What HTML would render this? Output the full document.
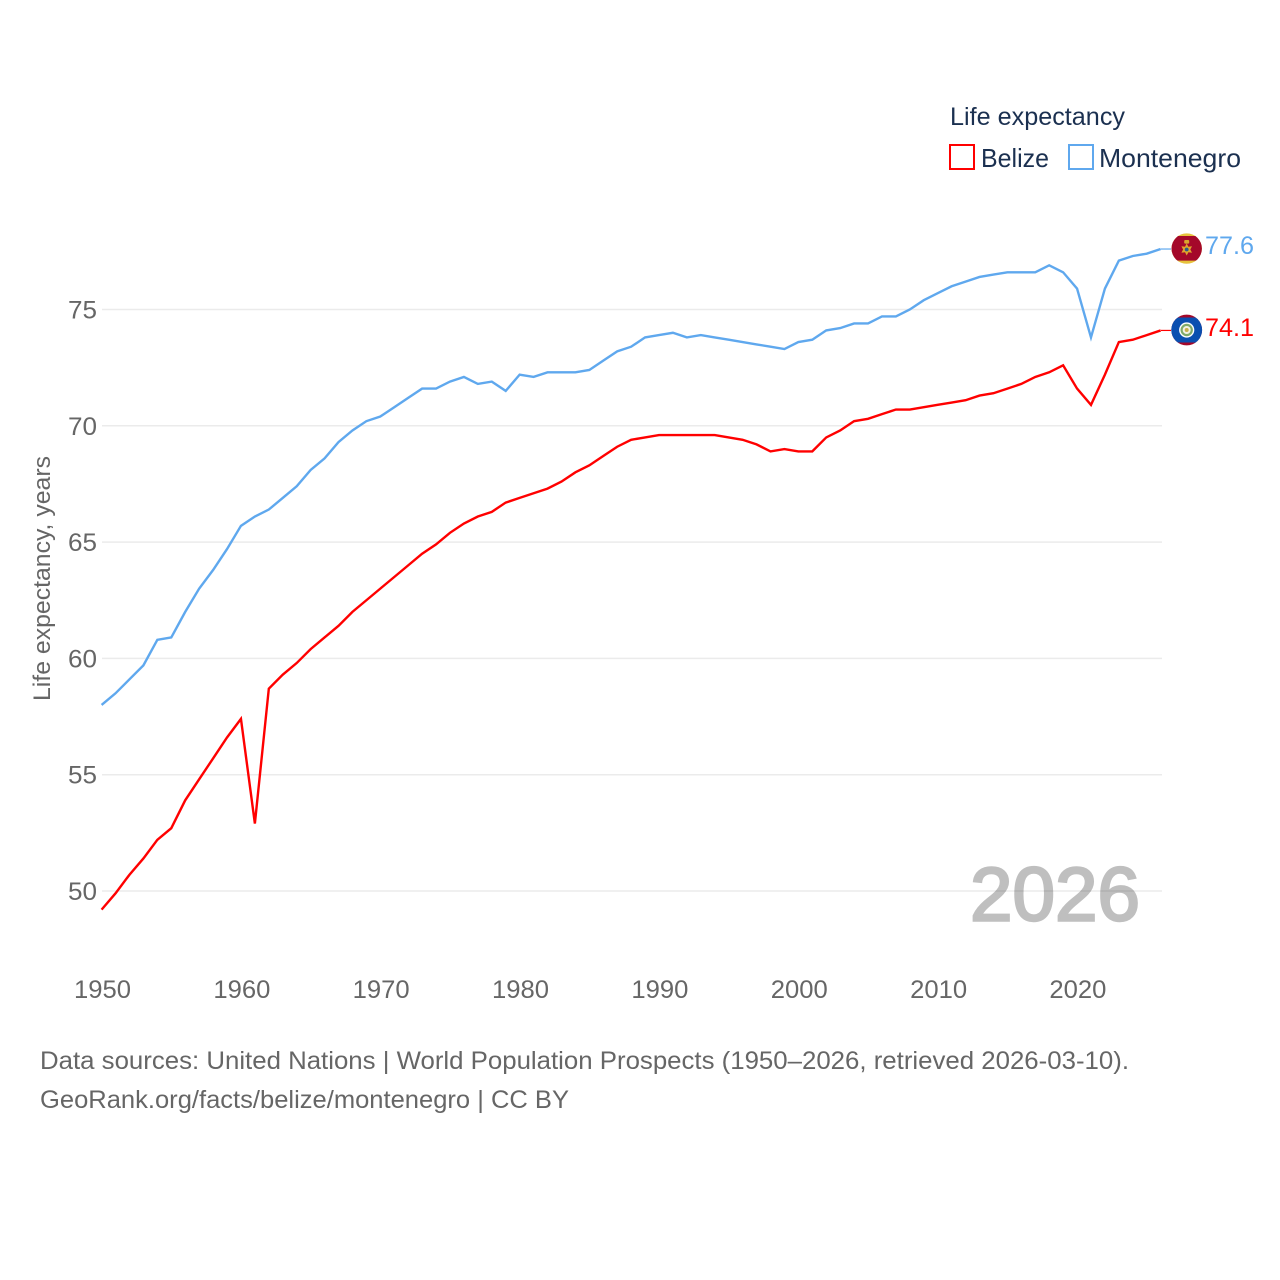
<!DOCTYPE html>
<html>
<head>
<meta charset="utf-8">
<title>Life expectancy: Belize and Montenegro</title>
<style>
html,body{margin:0;padding:0;background:#fff;width:1280px;height:1280px;overflow:hidden}
svg{display:block}
text{font-family:"Liberation Sans",sans-serif}
</style>
</head>
<body>
<svg id="chart" width="1280" height="1280" viewBox="0 0 1280 1280" xmlns="http://www.w3.org/2000/svg">
  <defs>
    <clipPath id="flag-clip-top"><circle cx="1186.7" cy="248.6" r="15.2"/></clipPath>
    <clipPath id="flag-clip-bottom"><circle cx="1186.7" cy="330" r="15.4"/></clipPath>
  </defs>
  <text x="970" y="920.5" font-size="76" fill="#bfbfbf" stroke="#bfbfbf" stroke-width="2.4" textLength="170" lengthAdjust="spacingAndGlyphs">2026</text>
  <g id="grid"></g>
  <g id="y-ticks"></g>
  <g id="x-ticks"></g>
  <text transform="translate(50,701) rotate(-90)" font-size="24" fill="#666" textLength="245" lengthAdjust="spacingAndGlyphs">Life expectancy, years</text>

  <g>
    <text x="950" y="125" font-size="25" fill="#1b3050" textLength="175" lengthAdjust="spacingAndGlyphs">Life expectancy</text>
    <g>
      <rect x="950" y="145" width="24" height="24" fill="none" stroke="#ff0000" stroke-width="2"/>
      <text x="981" y="167" font-size="26" fill="#1b3050" textLength="68" lengthAdjust="spacingAndGlyphs">Belize</text>
    </g>
    <g>
      <rect x="1069" y="145" width="24" height="24" fill="none" stroke="#5fa8ee" stroke-width="2"/>
      <text x="1099" y="167" font-size="26" fill="#1b3050" textLength="142" lengthAdjust="spacingAndGlyphs">Montenegro</text>
    </g>
  </g>

  <path id="line-belize" fill="none" stroke="#ff0000" stroke-width="2.4" stroke-linejoin="miter"/>
  <path id="line-montenegro" fill="none" stroke="#5fa8ee" stroke-width="2.4" stroke-linejoin="miter"/>
  <line id="conn-belize" x1="1161" x2="1171" stroke="#ff0000" stroke-width="1.2"/>
  <line id="conn-montenegro" x1="1161" x2="1171" stroke="#5fa8ee" stroke-width="1.2"/>

  <g clip-path="url(#flag-clip-top)">
    <rect x="1171" y="233" width="32" height="32" fill="#e6c23c"/>
    <rect x="1171" y="236" width="32" height="24.6" fill="#a4082a"/>
    <polygon points="1186.7,243.5 1188.4,246.8 1192,246.2 1190.3,249.5 1192,252.8 1188.4,252.2 1186.7,255.5 1185,252.2 1181.4,252.8 1183.1,249.5 1181.4,246.2 1185,246.8" fill="#dfa62c"/>
    <circle cx="1186.7" cy="249.5" r="1.9" fill="#2a5a8c"/>
    <rect x="1184.2" y="240" width="5" height="3.6" rx="1" fill="#d9a62e"/>
  </g>
  <g clip-path="url(#flag-clip-bottom)">
    <rect x="1171" y="314" width="32" height="32" fill="#a4082a"/>
    <rect x="1171" y="317.5" width="32" height="25" fill="#0a4fb0"/>
    <circle cx="1186.7" cy="330" r="7.6" fill="#fff"/>
    <circle cx="1186.7" cy="330" r="6.2" fill="#7faa6a"/>
    <circle cx="1186.7" cy="330" r="4" fill="#f2f2e4"/>
    <circle cx="1186.7" cy="330" r="2" fill="#c8b04a"/>
  </g>

  <text id="value-montenegro" x="1205" y="254" font-size="25" fill="#5fa8ee" textLength="49" lengthAdjust="spacingAndGlyphs"></text>
  <text id="value-belize" x="1205" y="336" font-size="25" fill="#ff0000" textLength="49" lengthAdjust="spacingAndGlyphs"></text>

  <text x="40" y="1069" font-size="25" fill="#666" textLength="1089" lengthAdjust="spacingAndGlyphs">Data sources: United Nations | World Population Prospects (1950–2026, retrieved 2026-03-10).</text>
  <text x="40" y="1108" font-size="25" fill="#666" textLength="529" lengthAdjust="spacingAndGlyphs">GeoRank.org/facts/belize/montenegro | CC BY</text>
</svg>
<script>
const startYear = 1950;
const belizeValues = [49.2,49.9,50.7,51.4,52.2,52.7,53.9,54.8,55.7,56.6,57.4,52.9,58.7,59.3,59.8,60.4,60.9,61.4,62.0,62.5,63.0,63.5,64.0,64.5,64.9,65.4,65.8,66.1,66.3,66.7,66.9,67.1,67.3,67.6,68.0,68.3,68.7,69.1,69.4,69.5,69.6,69.6,69.6,69.6,69.6,69.5,69.4,69.2,68.9,69.0,68.9,68.9,69.5,69.8,70.2,70.3,70.5,70.7,70.7,70.8,70.9,71.0,71.1,71.3,71.4,71.6,71.8,72.1,72.3,72.6,71.6,70.9,72.2,73.6,73.7,73.9,74.1];
const montenegroValues = [58.0,58.5,59.1,59.7,60.8,60.9,62.0,63.0,63.8,64.7,65.7,66.1,66.4,66.9,67.4,68.1,68.6,69.3,69.8,70.2,70.4,70.8,71.2,71.6,71.6,71.9,72.1,71.8,71.9,71.5,72.2,72.1,72.3,72.3,72.3,72.4,72.8,73.2,73.4,73.8,73.9,74.0,73.8,73.9,73.8,73.7,73.6,73.5,73.4,73.3,73.6,73.7,74.1,74.2,74.4,74.4,74.7,74.7,75.0,75.4,75.7,76.0,76.2,76.4,76.5,76.6,76.6,76.6,76.9,76.6,75.9,73.8,75.9,77.1,77.3,77.4,77.6];
const yTickValues = [50,55,60,65,70,75];
const xTickValues = [1950,1960,1970,1980,1990,2000,2010,2020];

const NS = 'http://www.w3.org/2000/svg';
function xScale(year){ return 101.6 + (year - 1950) * 13.935; }
function yScale(value){ return 891 - (value - 50) * 23.26; }
function linePath(values){
  return values.map(function(v,i){
    return (i ? 'L' : 'M') + xScale(startYear + i).toFixed(2) + ' ' + yScale(v).toFixed(2);
  }).join(' ');
}

document.getElementById('line-belize').setAttribute('d', linePath(belizeValues));
document.getElementById('line-montenegro').setAttribute('d', linePath(montenegroValues));

const lastBelize = belizeValues[belizeValues.length - 1];
const lastMontenegro = montenegroValues[montenegroValues.length - 1];
const connB = document.getElementById('conn-belize');
connB.setAttribute('y1', yScale(lastBelize));
connB.setAttribute('y2', yScale(lastBelize));
const connM = document.getElementById('conn-montenegro');
connM.setAttribute('y1', yScale(lastMontenegro));
connM.setAttribute('y2', yScale(lastMontenegro));
document.getElementById('value-belize').textContent = lastBelize.toFixed(1);
document.getElementById('value-montenegro').textContent = lastMontenegro.toFixed(1);

const grid = document.getElementById('grid');
const yTicks = document.getElementById('y-ticks');
yTickValues.forEach(function(v){
  const y = yScale(v);
  const gl = document.createElementNS(NS,'line');
  
  
  gl.setAttribute('x1', 102);
  gl.setAttribute('x2', 1162);
  gl.setAttribute('y1', y);
  gl.setAttribute('y2', y);
  gl.setAttribute('stroke', 'rgba(0,0,0,0.08)');
  gl.setAttribute('stroke-width', '1.5');
  grid.appendChild(gl);
  const t = document.createElementNS(NS,'text');
  
  
  t.setAttribute('x', 68);
  t.setAttribute('y', y + 9);
  t.setAttribute('font-size', '25');
  t.setAttribute('fill', '#666');
  t.setAttribute('textLength', '29');
  t.setAttribute('lengthAdjust', 'spacingAndGlyphs');
  t.textContent = v;
  yTicks.appendChild(t);
});

const xTicks = document.getElementById('x-ticks');
xTickValues.forEach(function(yr){
  const t = document.createElementNS(NS,'text');
  
  
  t.setAttribute('x', xScale(yr) - 27.6);
  t.setAttribute('y', 998);
  t.setAttribute('font-size', '25');
  t.setAttribute('fill', '#666');
  t.setAttribute('textLength', '57');
  t.setAttribute('lengthAdjust', 'spacingAndGlyphs');
  t.textContent = yr;
  xTicks.appendChild(t);
});
</script>
</body>
</html>
